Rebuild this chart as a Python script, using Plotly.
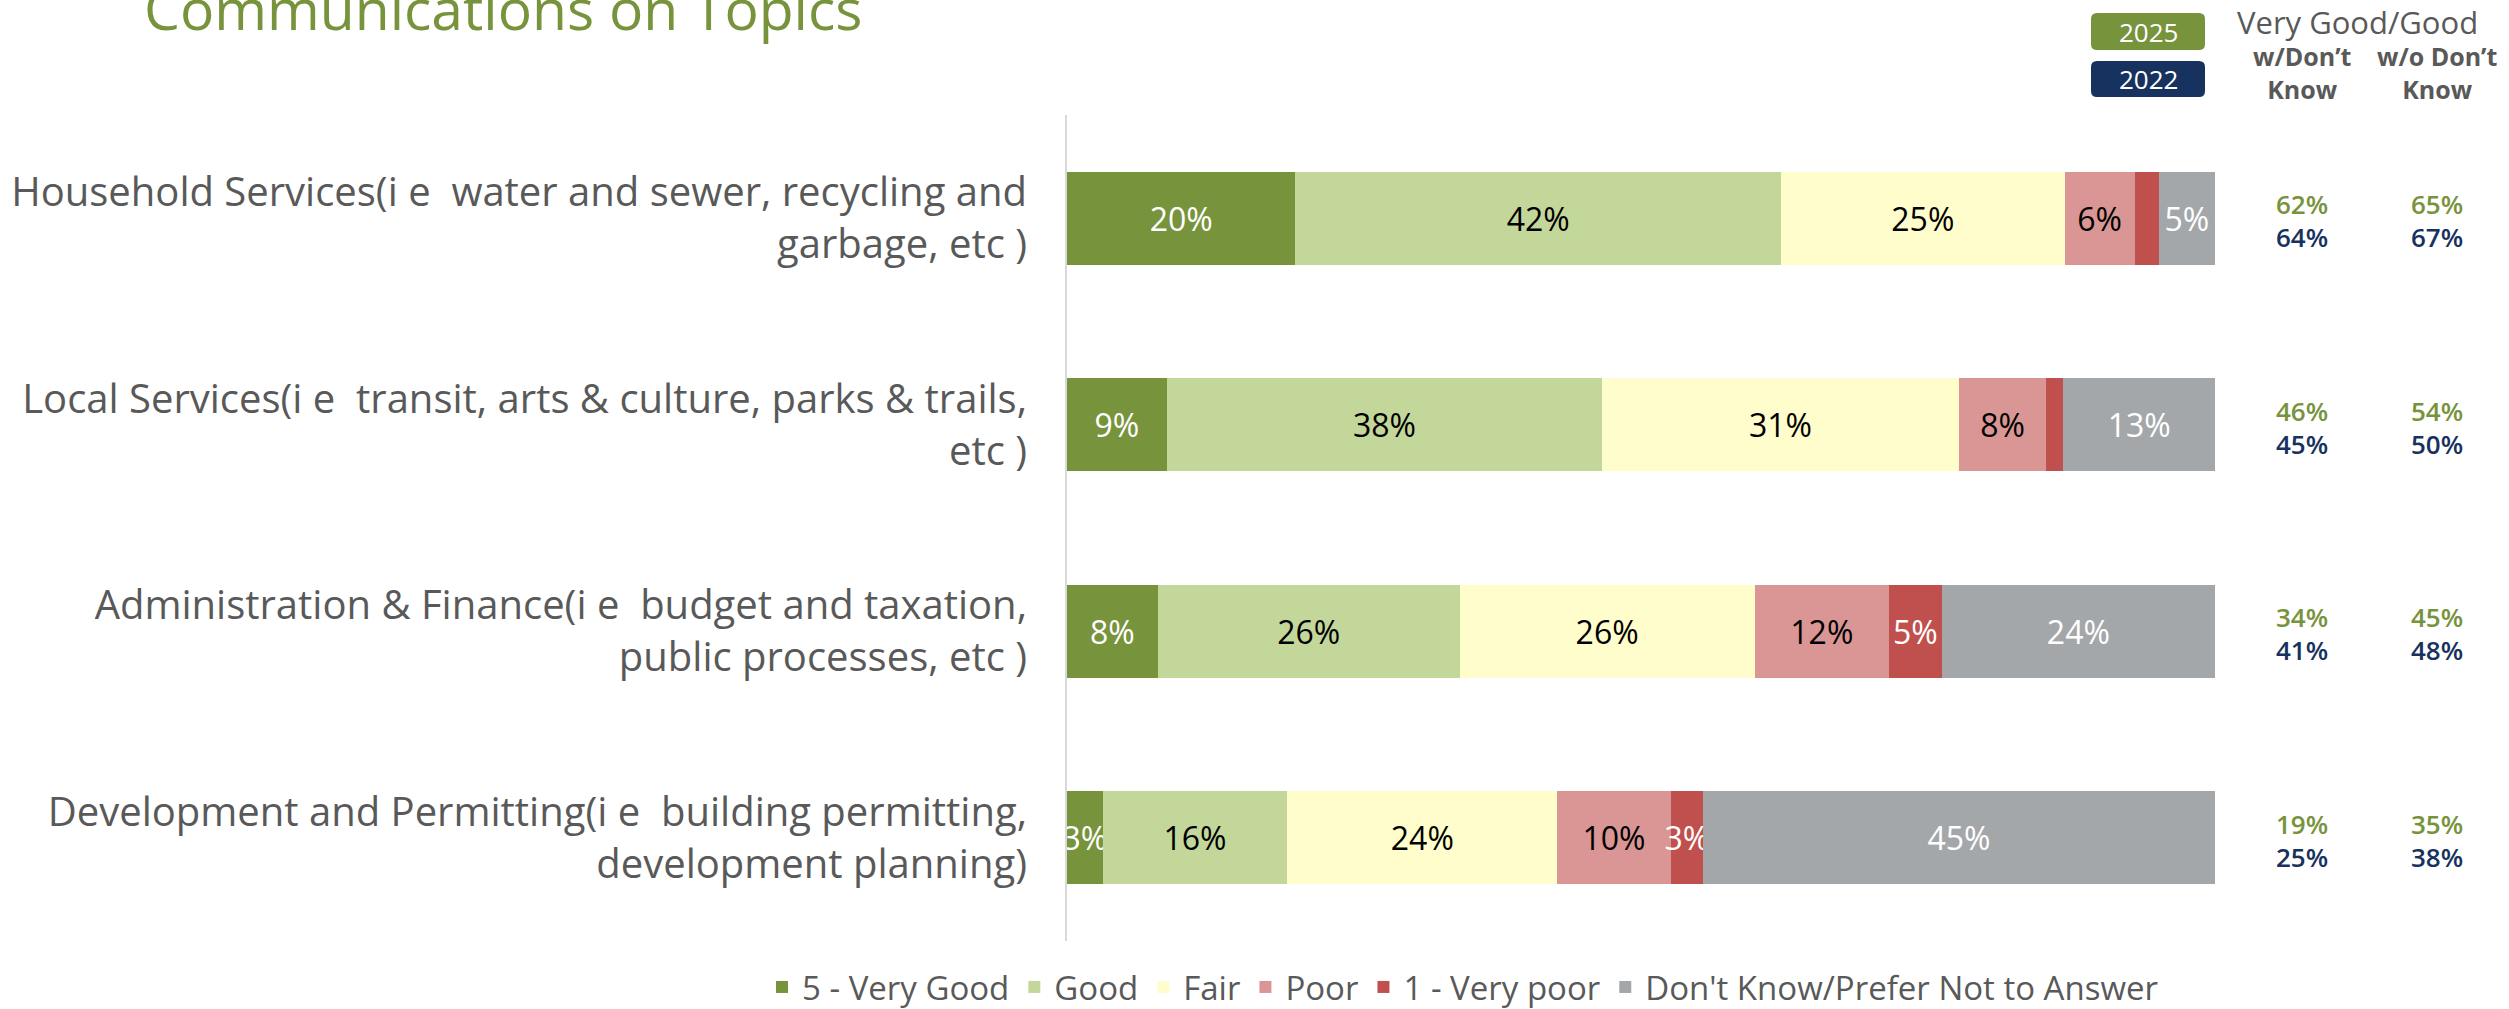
import plotly.graph_objects as go

# ---------------- data ----------------
categories = [
    "Household Services(i e\u00a0 water and sewer, recycling and<br>garbage, etc )",
    "Local Services(i e\u00a0 transit, arts & culture, parks & trails,<br>etc )",
    "Administration & Finance(i e\u00a0 budget and taxation,<br>public processes, etc )",
    "Development and Permitting(i e\u00a0 building permitting,<br>development planning)",
]
series_names = ["5 - Very Good", "Good", "Fair", "Poor", "1 - Very poor",
                "Don't Know/Prefer Not to Answer"]
very_good = [19.9, 8.7, 7.9, 3.1]
good = [42.3, 37.9, 26.3, 16.1]
fair = [24.7, 31.1, 25.7, 23.5]
poor = [6.1, 7.6, 11.7, 9.9]
very_poor = [2.1, 1.5, 4.6, 2.8]
dont_know = [4.9, 13.2, 23.8, 44.6]

vg_with_dk_2025 = [62, 46, 34, 19]
vg_with_dk_2022 = [64, 45, 41, 25]
vg_without_dk_2025 = [65, 54, 45, 35]
vg_without_dk_2022 = [67, 50, 48, 38]

# ---------------- styles ----------------
series_values = [very_good, good, fair, poor, very_poor, dont_know]
series_colors = ["#77933C", "#C4D79B", "#FEFDCB", "#DA9694", "#C0504D", "#A4A7AA"]
text_colors = ["white", "black", "black", "black", "white", "white"]
GREEN = "#77933C"
NAVY = "#17325E"
GRAY = "#595959"
FONT = "Open Sans"

W, H = 2509, 1009
L, R, T, B = 1067, 2215, 115, 941  # plot area in pixels


def px_x(px):
    return (px - L) / (R - L)


def px_y(py):
    return (B - py) / (B - T)


def rounded_rect(x0p, x1p, y0p, y1p, r=6):
    x0, x1 = px_x(x0p), px_x(x1p)
    y0, y1 = px_y(y1p), px_y(y0p)
    rx, ry = r / (R - L), r / (B - T)
    return (f"M {x0+rx},{y0} L {x1-rx},{y0} Q {x1},{y0} {x1},{y0+ry} "
            f"L {x1},{y1-ry} Q {x1},{y1} {x1-rx},{y1} L {x0+rx},{y1} "
            f"Q {x0},{y1} {x0},{y1-ry} L {x0},{y0+ry} Q {x0},{y0} {x0+rx},{y0} Z")


fig = go.Figure()
for name, vals, col, tcol in zip(series_names, series_values, series_colors, text_colors):
    fig.add_trace(go.Bar(
        y=categories, x=vals, name=name, orientation="h",
        marker=dict(color=col, line=dict(width=0)),
        text=[f"{round(v)}%" if v >= 2.5 else "" for v in vals],
        textposition="inside", insidetextanchor="middle", textangle=0,
        constraintext="none",
        textfont=dict(family=FONT, size=32, color=tcol),
        width=0.45,
    ))

annotations = []
# title
annotations.append(dict(
    text="Communications on Topics", xref="paper", yref="paper",
    x=px_x(142), y=px_y(8), xanchor="left", yanchor="middle", showarrow=False,
    font=dict(family=FONT, size=57, color=GREEN)))
# right-side header
annotations.append(dict(
    text="Very Good/Good", xref="paper", yref="paper",
    x=px_x(2357), y=px_y(22), xanchor="center", yanchor="middle", showarrow=False,
    font=dict(family=FONT, size=31, color=GRAY)))
for label, cx in [("w/Don\u2019t<br>Know", 2302), ("w/o Don\u2019t<br>Know", 2437)]:
    annotations.append(dict(
        text=label, xref="paper", yref="paper",
        x=px_x(cx), y=px_y(73), xanchor="center", yanchor="middle", showarrow=False,
        font=dict(family=FONT, size=25, color=GRAY, weight="bold")))

# year boxes
shapes = []
for year, col, y0, y1 in [("2025", GREEN, 13, 50), ("2022", NAVY, 61, 97)]:
    shapes.append(dict(type="path", xref="paper", yref="paper",
                       path=rounded_rect(2091, 2205, y0, y1),
                       fillcolor=col, line=dict(width=0), layer="above"))
    annotations.append(dict(
        text=year, xref="paper", yref="paper",
        x=px_x(2148), y=px_y((y0 + y1) / 2), xanchor="center", yanchor="middle",
        showarrow=False, font=dict(family=FONT, size=26, color="white")))

# right-side values
for cx, v25, v22 in [(2302, vg_with_dk_2025, vg_with_dk_2022),
                     (2437, vg_without_dk_2025, vg_without_dk_2022)]:
    for cat, a, b in zip(categories, v25, v22):
        annotations.append(dict(
            text=f"{a}%", xref="paper", yref="y", x=px_x(cx), y=cat, yshift=14,
            xanchor="center", yanchor="middle", showarrow=False,
            font=dict(family=FONT, size=26, color=GREEN, weight=600)))
        annotations.append(dict(
            text=f"{b}%", xref="paper", yref="y", x=px_x(cx), y=cat, yshift=-19,
            xanchor="center", yanchor="middle", showarrow=False,
            font=dict(family=FONT, size=26, color=NAVY, weight=600)))

fig.update_layout(
    width=W, height=H,
    barmode="stack",
    paper_bgcolor="white", plot_bgcolor="white",
    margin=dict(l=L, r=W - R, t=T, b=H - B, pad=0, autoexpand=False),
    font=dict(family=FONT, color=GRAY),
    xaxis=dict(range=[0, 100], showgrid=False, zeroline=False, showticklabels=False,
               showline=False, fixedrange=True),
    yaxis=dict(autorange="reversed", showgrid=False, zeroline=False,
               showline=True, linecolor="#D9D9D9", linewidth=2,
               ticks="", ticklabelstandoff=30, automargin=False,
               tickfont=dict(family=FONT, size=40, color=GRAY)),
    legend=dict(orientation="h", xref="paper", yref="paper",
                x=px_x(762), xanchor="left",
                y=px_y(987), yanchor="middle",
                font=dict(family=FONT, size=33, color=GRAY),
                itemwidth=30, traceorder="normal", bgcolor="rgba(0,0,0,0)"),
    annotations=annotations,
    shapes=shapes,
    showlegend=True,
)

fig.write_html("out.html", config={"displayModeBar": False},
               post_script="document.body.style.margin='0';")
